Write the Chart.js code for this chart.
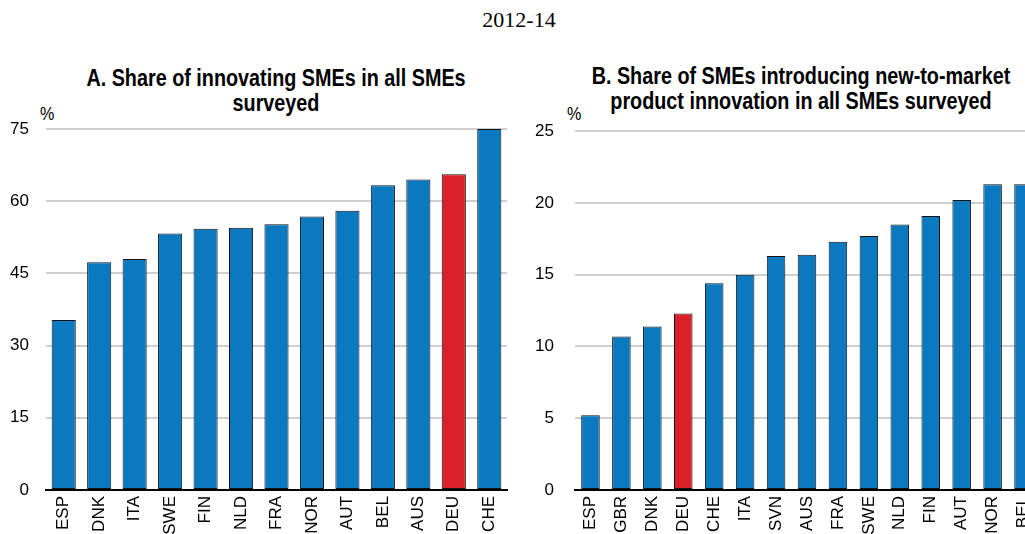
<!DOCTYPE html>
<html>
<head>
<meta charset="utf-8">
<script src="https://cdn.jsdelivr.net/npm/chart.js@4"></script>
<style>
  html, body { margin: 0; padding: 0; width: 1025px; height: 534px; overflow: hidden; background: #fff; }
  .narrow { font-family: 'Liberation Sans', Arial, sans-serif; color: #000; }
  #main-title { position: absolute; left: 0; width: 1038px; top: 7px; text-align: center; font: 22px 'Liberation Serif', 'Times New Roman', serif; }
  .panel-title { position: absolute; text-align: center; font-weight: bold; font-size: 23px; line-height: 25px; white-space: nowrap; transform: scaleX(0.86); transform-origin: center top; }
  .unit { position: absolute; font-size: 19px; transform: scaleX(0.85); transform-origin: left top; }
  .box { position: absolute; top: 100px; height: 440px; }
</style>
</head>
<body>
<div id="main-title">2012-14</div>
<div class="panel-title narrow" style="left:16px; width:520px; top:66px;">A. Share of innovating SMEs in all SMEs<br>surveyed</div>
<div class="panel-title narrow" style="left:541px; width:520px; top:64px;">B. Share of SMEs introducing new-to-market<br>product innovation in all SMEs surveyed</div>
<div class="unit narrow" style="left:40px; top:103px;">%</div>
<div class="unit narrow" style="left:567px; top:103px;">%</div>
<div class="box" style="left:0; width:520px;"><canvas id="chartA" width="520" height="440"></canvas></div>
<div class="box" style="left:520px; width:540px;"><canvas id="chartB" width="540" height="440"></canvas></div>
<script>
const countriesA = ['ESP', 'DNK', 'ITA', 'SWE', 'FIN', 'NLD', 'FRA', 'NOR', 'AUT', 'BEL', 'AUS', 'DEU', 'CHE'];
const valuesA = [35.3, 47.3, 48.0, 53.3, 54.3, 54.5, 55.2, 56.8, 58.0, 63.3, 64.5, 65.6, 75.0];

const countriesB = ['ESP', 'GBR', 'DNK', 'DEU', 'CHE', 'ITA', 'SVN', 'AUS', 'FRA', 'SWE', 'NLD', 'FIN', 'AUT', 'NOR', 'BEL'];
const valuesB = [5.2, 10.7, 11.4, 12.3, 14.4, 15.0, 16.3, 16.4, 17.3, 17.7, 18.5, 19.1, 20.2, 21.3, 21.3];

const blue = '#0b79bf';
const red = '#da2129';
const fontFamily = "'Liberation Sans', Arial, sans-serif";

function barColors(labels) {
  return labels.map(label => (label === 'DEU' ? red : blue));
}

function makeChart(canvasId, labels, values, opts) {
  return new Chart(document.getElementById(canvasId), {
    type: 'bar',
    data: {
      labels: labels,
      datasets: [
        {
          data: values,
          backgroundColor: barColors(labels),
          borderColor: '#111',
          borderWidth: 1,
          borderSkipped: false,
          categoryPercentage: 1,
          barPercentage: opts.barPercentage,
        },
      ],
    },
    options: {
      responsive: false,
      animation: false,
      layout: {
        padding: { top: 29, right: opts.rightPad, bottom: 0, left: 0 },
      },
      scales: {
        x: {
          afterFit: scale => { scale.height = 50; },
          border: { display: true, color: '#000', width: 2 },
          grid: { display: false, drawTicks: false },
          ticks: {
            autoSkip: false,
            minRotation: 90,
            maxRotation: 90,
            padding: 6,
            color: '#000',
            font: { family: fontFamily, size: 17 },
          },
        },
        y: {
          min: 0,
          max: opts.max,
          afterFit: scale => { scale.width = opts.axisWidth; },
          border: { display: false },
          grid: { color: '#cfcfcf', lineWidth: 2, drawTicks: false },
          ticks: {
            stepSize: opts.step,
            padding: opts.labelPad,
            color: '#000',
            font: { family: fontFamily, size: 17 },
          },
        },
      },
      plugins: {
        legend: { display: false },
        tooltip: { enabled: false },
      },
    },
  });
}

makeChart('chartA', countriesA, valuesA, {
  max: 75, step: 15, axisWidth: 46, labelPad: 17, rightPad: 13, barPercentage: 0.68,
});

makeChart('chartB', countriesB, valuesB, {
  max: 25, step: 5, axisWidth: 55, labelPad: 21, rightPad: 21, barPercentage: 0.6,
});
</script>
</body>
</html>
